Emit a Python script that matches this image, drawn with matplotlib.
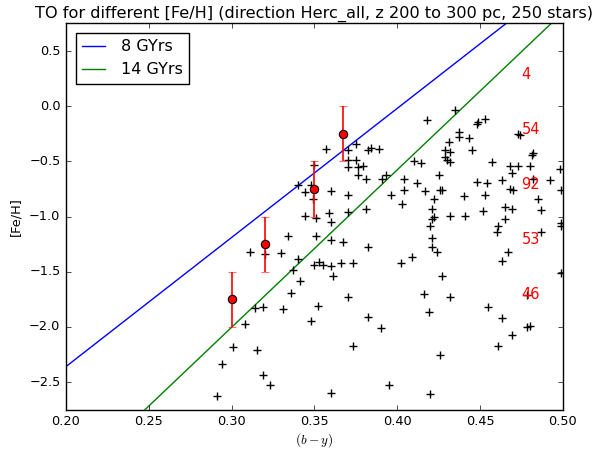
import matplotlib
matplotlib.use("Agg")
import matplotlib.pyplot as plt
import numpy as np

plt.style.use('classic')

# stars (b-y, [Fe/H])
star_by = [0.357, 0.370, 0.375, 0.382, 0.384, 0.389, 0.370, 0.375, 0.370, 0.376, 0.379, 0.376, 0.381, 0.391, 0.393,
           0.350, 0.340, 0.348, 0.344, 0.349, 0.360, 0.370, 0.381, 0.359, 0.370, 0.344, 0.351, 0.360, 0.334, 0.351,
           0.360, 0.367, 0.382, 0.311, 0.320, 0.330,
           0.435, 0.418, 0.449, 0.448, 0.453, 0.437, 0.437, 0.443, 0.431, 0.445, 0.429, 0.432, 0.429, 0.430, 0.432,
           0.473, 0.474, 0.482, 0.481, 0.457, 0.410, 0.414, 0.468, 0.473, 0.480, 0.498, 0.469, 0.425, 0.404, 0.412,
           0.448, 0.454, 0.463, 0.482, 0.492, 0.404, 0.417, 0.426, 0.427, 0.468, 0.470, 0.499, 0.396, 0.440, 0.453,
           0.422, 0.485, 0.403, 0.421, 0.465, 0.469, 0.487, 0.452, 0.422, 0.421, 0.432, 0.441, 0.465, 0.420, 0.461,
           0.460, 0.487, 0.499, 0.499, 0.421, 0.421, 0.424, 0.467,
           0.402, 0.409, 0.463, 0.427, 0.499, 0.416, 0.432, 0.478, 0.455, 0.419, 0.463, 0.478, 0.480, 0.469, 0.461,
           0.426, 0.395, 0.420,
           0.340, 0.350, 0.353, 0.355, 0.360, 0.361, 0.366, 0.373, 0.337, 0.341, 0.336, 0.370, 0.314, 0.319, 0.331,
           0.352, 0.308, 0.348, 0.382, 0.390, 0.301, 0.315, 0.373, 0.294, 0.319, 0.323, 0.291, 0.360]
star_feh = [-0.388, -0.400, -0.342, -0.394, -0.379, -0.385, -0.485, -0.485, -0.554, -0.554, -0.545, -0.627, -0.660,
            -0.660, -0.625, -0.530, -0.711, -0.717, -0.781, -0.838, -0.765, -0.804, -0.931, -0.967, -0.962, -0.998,
            -1.010, -1.049, -1.173, -1.173, -1.212, -1.234, -1.279, -1.324, -1.336, -1.330,
            -0.032, -0.122, -0.147, -0.159, -0.116, -0.234, -0.279, -0.288, -0.328, -0.394, -0.394, -0.412, -0.460,
            -0.491, -0.503, -0.252, -0.265, -0.424, -0.439, -0.505, -0.500, -0.515, -0.539, -0.545, -0.539, -0.566,
            -0.605, -0.620, -0.660, -0.696, -0.690, -0.696, -0.669, -0.660, -0.672, -0.756, -0.771, -0.763, -0.763,
            -0.750, -0.763, -0.756, -0.808, -0.811, -0.804, -0.838, -0.838, -0.886, -0.928, -0.917, -0.931, -0.944,
            -0.953, -1.004, -1.019, -0.998, -0.998, -1.019, -1.089, -1.089, -1.140, -1.140, -1.058, -1.082, -1.194,
            -1.279, -1.321, -1.324,
            -1.420, -1.366, -1.399, -1.535, -1.511, -1.698, -1.732, -1.714, -1.819, -1.868, -1.919, -2.000, -1.994,
            -2.076, -2.176, -2.251, -2.525, -2.607,
            -1.381, -1.436, -1.411, -1.436, -1.451, -1.542, -1.420, -1.420, -1.487, -1.587, -1.692, -1.728, -1.828,
            -1.819, -1.837, -1.813, -1.973, -1.949, -1.909, -2.009, -2.181, -2.206, -2.169, -2.341, -2.438, -2.523,
            -2.628, -2.598]

# turn-off points with errors
to_by = [0.300, 0.320, 0.350, 0.367]
to_feh = [-1.75, -1.25, -0.75, -0.25]
to_err = [0.25, 0.25, 0.25, 0.25]

# isochrone turn-off lines
iso8_by = [0.2, 0.4657]
iso8_feh = [-2.36, 0.75]
iso14_by = [0.2477, 0.4929]
iso14_feh = [-2.75, 0.75]

# star counts per [Fe/H] bin
bin_feh = [0.25, -0.25, -0.75, -1.25, -1.75]
bin_count = ['4', '54', '92', '53', '46']

fig = plt.figure(figsize=(5.95, 4.49), dpi=100)
ax = fig.add_axes([0.1109, 0.0877, 0.8353, 0.8601])

ax.plot(iso8_by, iso8_feh, 'b-', lw=1, label='8 GYrs')
ax.plot(iso14_by, iso14_feh, 'g-', lw=1, label='14 GYrs')
ax.plot(star_by, star_feh, 'k+', ms=5.5, mew=1.0)

eb = ax.errorbar(to_by, to_feh, yerr=to_err, fmt='o', color='r', ecolor='r', mfc='r', mec='k',
                 ms=6, mew=0.8, capsize=3, elinewidth=1.2)
for cl in eb[1]:
    cl.set_alpha(0.55)

for f, c in zip(bin_feh, bin_count):
    ax.text(0.475, f, c, color='r', fontsize=10.5)

ax.set_xlim(0.2, 0.5)
ax.set_ylim(-2.75, 0.75)
ax.set_xticks(np.arange(0.2, 0.501, 0.05))
ax.set_xticklabels(['0.20', '0.25', '0.30', '0.35', '0.40', '0.45', '0.50'])
ax.set_yticks([0.5, 0.0, -0.5, -1.0, -1.5, -2.0, -2.5])
ax.tick_params(labelsize=9.3, direction='in', length=3.5, top=True, right=True)
ax.minorticks_off()

ax.set_title('TO for different [Fe/H] (direction Herc_all, z 200 to 300 pc, 250 stars)', fontsize=11.6, pad=4)
ax.set_xlabel('$(b-y)$', fontsize=9.5, labelpad=2)
ax.set_ylabel('[Fe/H]', fontsize=9.3)

leg = ax.legend(loc='upper left', fontsize=11.5, handlelength=1.45, handletextpad=1.0,
                borderaxespad=0.6, numpoints=1, fancybox=False)
leg.get_frame().set_linewidth(1)

fig.savefig('out.png', dpi=100)
